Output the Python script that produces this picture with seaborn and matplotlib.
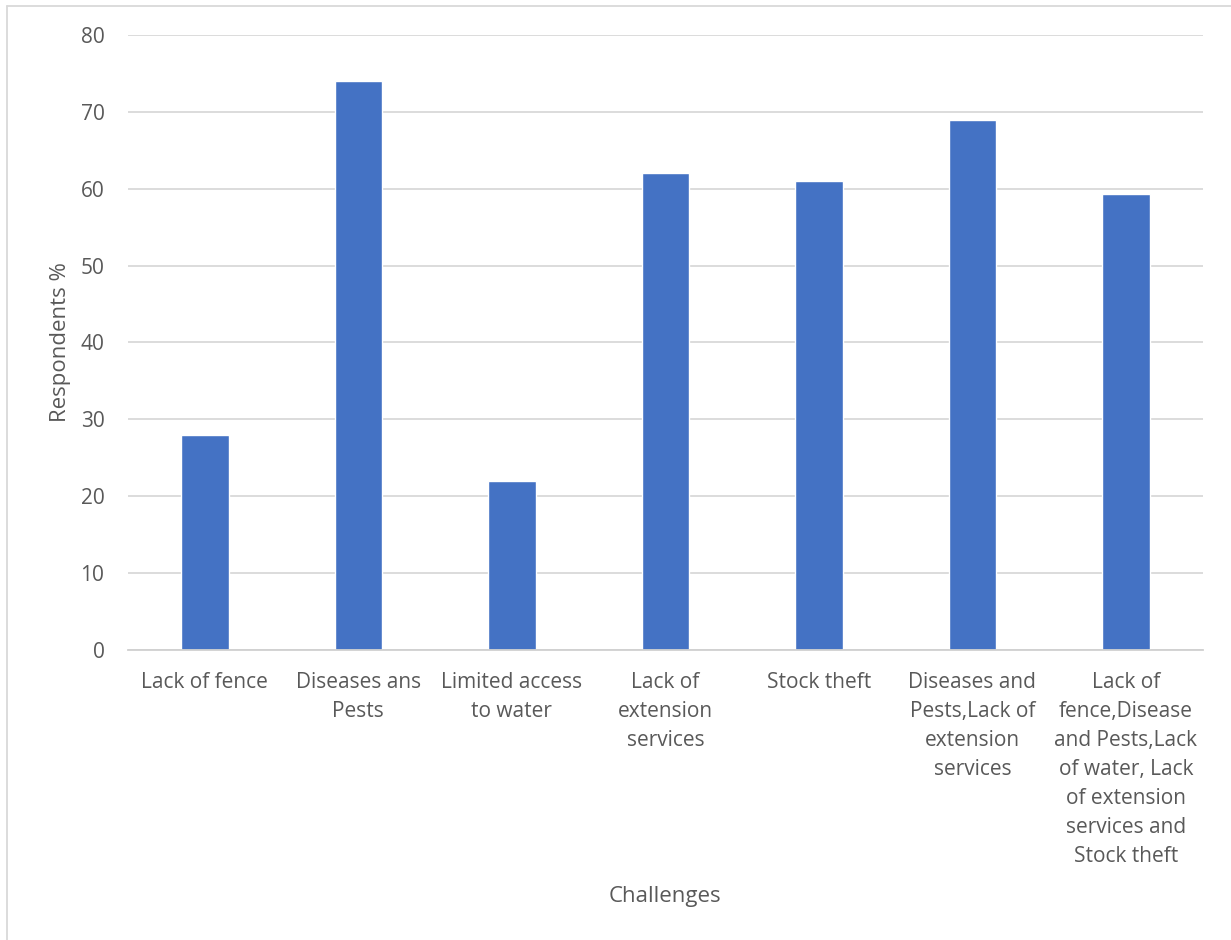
import matplotlib
matplotlib.use("Agg")
import matplotlib.pyplot as plt
import seaborn as sns
import pandas as pd
from matplotlib.lines import Line2D

categories = [
    "Lack of fence",
    "Diseases ans\nPests",
    "Limited access\nto water",
    "Lack of\nextension\nservices",
    "Stock theft",
    "Diseases and\nPests,Lack of\nextension\nservices",
    "Lack of\nfence,Disease\nand Pests,Lack\nof water, Lack\nof extension\nservices and\nStock theft",
]
values = [28, 74, 22, 62, 61, 69, 59.3]
yticks = [0, 10, 20, 30, 40, 50, 60, 70, 80]

sns.set_theme(style="white")
plt.rcParams['font.family'] = ['Open Sans', 'DejaVu Sans']

df = pd.DataFrame({"Challenges": categories, "Respondents %": values})

fig = plt.figure(figsize=(12.31, 9.4), dpi=100)
ax = fig.add_axes([0.104, 0.3085, 0.873, 0.6543])

sns.barplot(data=df, x="Challenges", y="Respondents %", color="#4472C4",
            saturation=1, width=0.31, ax=ax)

ax.set_ylim(0, 80)
ax.set_yticks(yticks)
ax.set_xlim(-0.5, len(categories) - 0.5)
ax.yaxis.grid(True, color="#D9D9D9", linewidth=1.3)
ax.set_axisbelow(True)
for s in ["top", "right", "left"]:
    ax.spines[s].set_visible(False)
ax.spines["bottom"].set_color("#D0D0D0")
ax.spines["bottom"].set_linewidth(1.3)
ax.tick_params(axis="both", length=0, labelsize=15, colors="#595959")
ax.tick_params(axis="y", pad=17)
ax.tick_params(axis="x", pad=15.5)
for lbl in ax.get_xticklabels():
    lbl.set_linespacing(1.5)
ax.set_xlabel("Challenges", fontsize=16, color="#595959")
ax.set_ylabel("Respondents %", fontsize=16, color="#595959")
ax.xaxis.set_label_coords(0.5, -0.383)
ax.yaxis.set_label_coords(-0.053, 0.5)

# outer chart frame (left and top edges visible)
fig.add_artist(Line2D([7/1231, 7/1231], [0, 1 - 6/940], transform=fig.transFigure,
                      color="#D9D9D9", linewidth=1.3))
fig.add_artist(Line2D([7/1231, 1], [1 - 6/940, 1 - 6/940], transform=fig.transFigure,
                      color="#D9D9D9", linewidth=1.3))

fig.savefig("out.png", dpi=100, facecolor="white")
